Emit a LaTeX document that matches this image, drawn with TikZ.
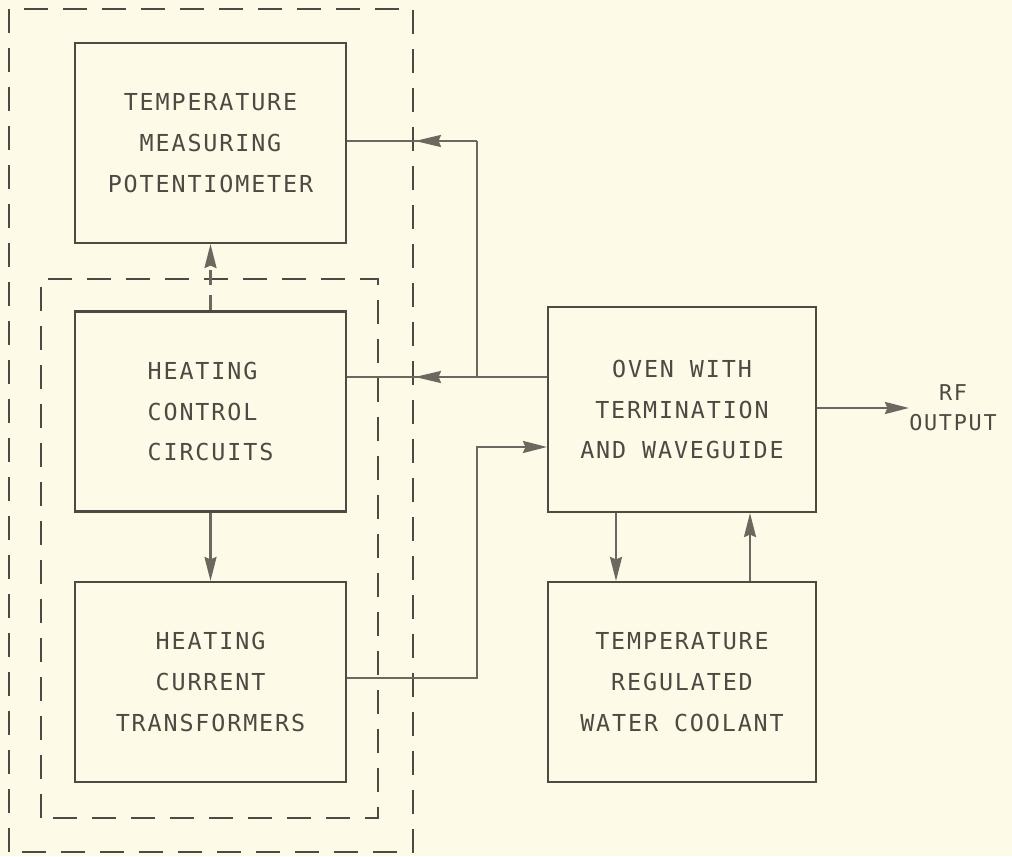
\documentclass[tikz,border=0pt]{standalone}
\usepackage{fontspec}
\usetikzlibrary{arrows.meta, positioning, calc, decorations.markings}
\definecolor{PaperCream}{RGB}{253,251,231}
\definecolor{InkDark}{RGB}{78,73,66}
\definecolor{InkGrey}{RGB}{108,103,95}
\newfontfamily\typefont[LetterSpace=8]{DejaVu Sans Mono}
\newcommand{\lbl}{\typefont\fontsize{13.3}{23.2}\selectfont}
\newcommand{\rfl}{\typefont\fontsize{12.4}{17}\selectfont}

\begin{document}
\begin{tikzpicture}[
    block/.style={draw=InkDark, line width=1.2pt, text=InkDark, font=\lbl,
        align=center, minimum width=5.42cm, minimum height=4cm},
    frame/.style={draw=InkDark, line width=1.2pt, dash pattern=on 0.48cm off 0.3cm},
    wire/.style={draw=InkGrey, line width=1.3pt},
    arr/.style={-{Stealth[length=0.48cm, width=0.24cm, inset=0.05cm]}},
    midarr/.style={postaction=decorate, decoration={markings,
        mark=at position #1 with {\arrow{Stealth[length=0.52cm, width=0.24cm, inset=0.05cm]}}}}
]
\fill[PaperCream] (0,0) rectangle (20.24,17.12);
\useasboundingbox (0,0) rectangle (20.24,17.12);

% dashed enclosures
\draw[frame] (0.18,0.08) rectangle (8.26,16.94);
\draw[frame] (0.82,0.76) rectangle (7.56,11.54);

\node[block] (tmp) at (4.21,14.26)
    {TEMPERATURE\\MEASURING\\POTENTIOMETER};
\node[block, align=left] (hcc) at (4.21,8.89)
    {HEATING\\CONTROL\\CIRCUITS};
\node[block] (hct) at (4.21,3.48)
    {HEATING\\CURRENT\\TRANSFORMERS};
\node[block, minimum width=5.36cm, minimum height=4.1cm] (oven) at (13.64,8.93)
    {OVEN WITH\\TERMINATION\\AND WAVEGUIDE};
\node[block, minimum width=5.36cm] (water) at (13.64,3.48)
    {TEMPERATURE\\REGULATED\\WATER COOLANT};
\node[font=\rfl, text=InkDark, align=center, inner sep=0pt] (rf) at (19.06,8.96)
    {RF\\OUTPUT};

\coordinate (tap) at (9.54,9.58);
\coordinate (up) at (9.54,14.3);
\coordinate (feed) at (9.54,8.18);

\draw[wire, dash pattern=on 0.3cm off 0.2cm, arr] (hcc.north) -- (tmp.south);
\draw[wire, arr] (hcc.south) -- (hct.north);
\draw[wire] (oven.west |- tap) -- (tap) -- (up);
\draw[wire, midarr=1.24cm] (tap) -- (hcc.east |- tap);
\draw[wire, midarr=1.24cm] (up) -- (tmp.east |- up);
\draw[wire, arr] ([yshift=0.08cm]hct.east) -| (feed) -- (oven.west |- feed);
\draw[wire, arr] ([xshift=-1.32cm]oven.south) -- ([xshift=-1.32cm]water.north);
\draw[wire, arr] ([xshift=1.36cm]water.north) -- ([xshift=1.36cm]oven.south);
\draw[wire, arr] (oven.east |- rf.west) -- (rf.west);
\end{tikzpicture}
\end{document}
